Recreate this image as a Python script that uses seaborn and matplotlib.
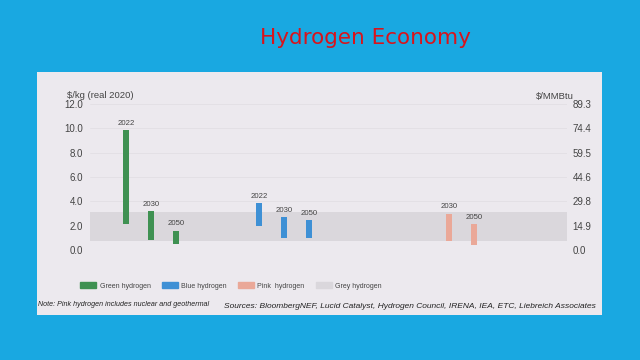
import matplotlib
matplotlib.use("Agg")
import matplotlib.pyplot as plt
import seaborn as sns
from matplotlib.patches import Patch, Rectangle

sns.set_theme(style="white")
plt.rcParams['font.family'] = ['Liberation Sans', 'DejaVu Sans']

# ---- data ----
groups = ["Green hydrogen", "Blue hydrogen", "Pink  hydrogen"]
green_years = ["2022", "2030", "2050"]
green_low = [2.1, 0.8, 0.5]
green_high = [9.9, 3.2, 1.6]
blue_years = ["2022", "2030", "2050"]
blue_low = [2.0, 1.0, 1.0]
blue_high = [3.9, 2.7, 2.5]
pink_years = ["2030", "2050"]
pink_low = [0.7, 0.4]
pink_high = [3.0, 2.1]
grey_range = [0.7, 3.1]
left_ticks = [0.0, 2.0, 4.0, 6.0, 8.0, 10.0, 12.0]
right_ticks = [0.0, 14.9, 29.8, 44.6, 59.5, 74.4, 89.3]

# ---- style ----
bg = "#19a8e1"
panel = "#ece9ee"
c_green = "#3f9152"
c_blue = "#3e90d5"
c_pink = "#eaa898"
c_grey = "#dad7dc"
txt = "#444444"

fig = plt.figure(figsize=(6.4, 3.6), dpi=100)
fig.patch.set_facecolor(bg)
fig.patches.append(Rectangle((37/640, 1-315/360), (602-37)/640, (315-72)/360,
                             transform=fig.transFigure, facecolor=panel,
                             edgecolor="none", zorder=-5))

ax = fig.add_axes([90/640, 1-250/360, (567-90)/640, (250-104)/360])
ax.set_facecolor("none")
for s in ax.spines.values():
    s.set_visible(False)

xmax = 477/25
ax.set_xlim(0, xmax)
ax.set_ylim(0, 12)
ax.set_yticks(left_ticks)
ax.set_yticklabels([f"{t:.1f}" for t in left_ticks], fontsize=7, color=txt)
ax.set_xticks([])
ax.tick_params(axis="y", length=0, pad=5)
for t in left_ticks:
    ax.axhline(t, color="#e2dfe4", lw=0.6, zorder=0.5)

ax.axhspan(grey_range[0], grey_range[1], color=c_grey, zorder=1, lw=0)

group_start = [1.44, 6.76, 13.36]
offset = {"2022": 0, "2030": 1, "2050": 2}
series = [(green_years, green_low, green_high, c_green),
          (blue_years, blue_low, blue_high, c_blue),
          (pink_years, pink_low, pink_high, c_pink)]
for gi, (yrs, lo, hi, col) in enumerate(series):
    xs = [group_start[gi] + offset[y] for y in yrs]
    heights = [h - l for h, l in zip(hi, lo)]
    ax.bar(xs, heights, bottom=lo, width=0.24, color=col, zorder=2, lw=0)
    for x, y, h in zip(xs, yrs, hi):
        ax.text(x, h + 0.25, y, ha="center", va="bottom", fontsize=5.6, color=txt)

ax2 = ax.twinx()
for s in ax2.spines.values():
    s.set_visible(False)
ax2.set_ylim(0, 89.3)
ax2.set_yticks(right_ticks)
ax2.set_yticklabels([f"{t:.1f}" for t in right_ticks], fontsize=7, color=txt)
ax2.tick_params(axis="y", length=0, pad=4)
ax2.grid(False)

fig.text(67/640, 1-96/360, r"\$/kg (real 2020)", fontsize=6.8, color=txt, va="center", ha="left")
fig.text(574/640, 1-96/360, r"\$/MMBtu", fontsize=6.8, color=txt, va="center", ha="right")

fig.text(365/640, 1-38/360, "Hydrogen Economy", fontsize=15.5, color="#d8141c",
         ha="center", va="center", family="DejaVu Sans")

handles = [Patch(color=c_green, label="Green hydrogen"),
           Patch(color=c_blue, label="Blue hydrogen"),
           Patch(color=c_pink, label="Pink  hydrogen"),
           Patch(color=c_grey, label="Grey hydrogen")]
leg = fig.legend(handles=handles, loc="center left", bbox_to_anchor=(74/640, 1-286/360),
                 ncol=4, frameon=False, fontsize=5, handlelength=2.3, handleheight=0.9,
                 columnspacing=1.6, handletextpad=0.5)
for t in leg.get_texts():
    t.set_color(txt)

fig.text(38/640, 1-305/360, "Note: Pink hydrogen includes nuclear and geothermal",
         fontsize=5.1, style="italic", color="#222222", va="center", ha="left")
fig.text(596/640, 1-306/360,
         "Sources: BloombergNEF, Lucid Catalyst, Hydrogen Council, IRENA, IEA, ETC, Liebreich Associates",
         fontsize=6, style="italic", color="#222222", va="center", ha="right")

fig.savefig("out.png", dpi=100, facecolor=bg)
